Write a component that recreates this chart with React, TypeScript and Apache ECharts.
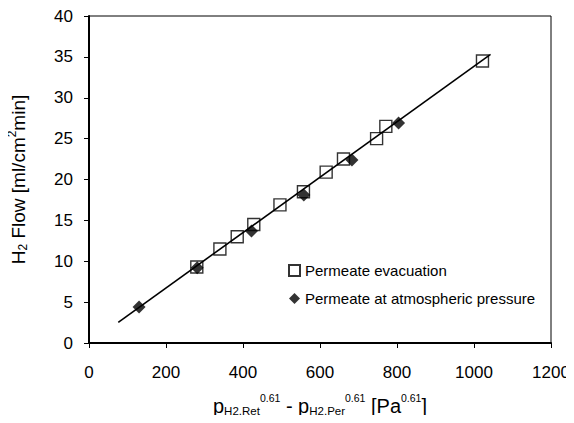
import React, { useEffect, useRef } from "react";
import * as echarts from "echarts";

const evacX = [280, 340, 385, 428, 496, 557, 616, 661, 747, 771, 1022];
const evacY = [9.3, 11.5, 13.0, 14.5, 16.9, 18.5, 20.9, 22.5, 25.0, 26.5, 34.5];
const atmX = [130, 281, 422, 558, 683, 804];
const atmY = [4.4, 9.2, 13.7, 18.1, 22.4, 26.9];
const fitX = [76, 1043];
const fitY = [2.53, 35.3];
const xTicks = { min: 0, max: 1200, interval: 200 };
const yTicks = { min: 0, max: 40, interval: 5 };
const seriesNames = ["Permeate evacuation", "Permeate at atmospheric pressure"];

const FONT = "'Liberation Sans', Arial, sans-serif";

export default function App() {
  const ref = useRef<HTMLDivElement>(null);
  useEffect(() => {
    if (!ref.current) return;
    const chart = echarts.init(ref.current, undefined, { renderer: "svg" });
    chart.setOption({
      animation: false,
      backgroundColor: "#fff",
      textStyle: { fontFamily: FONT, color: "#000" },
      grid: {
        left: 89,
        top: 16,
        right: 23,
        bottom: 80,
        outerBoundsMode: "none",
        containLabel: false,
        show: true,
        borderColor: "#000",
        borderWidth: 1,
        backgroundColor: "transparent",
      },
      legend: {
        orient: "vertical",
        left: 283,
        top: 258,
        itemWidth: 11,
        itemHeight: 11,
        itemGap: 13,
        data: seriesNames,
        textStyle: { fontSize: 15, fontFamily: FONT, color: "#000" },
      },
      xAxis: {
        type: "value",
        min: xTicks.min,
        max: xTicks.max,
        interval: xTicks.interval,
        splitLine: { show: false },
        axisLine: { show: true, onZero: false, lineStyle: { color: "#000", width: 2 } },
        axisTick: { show: true, inside: false, length: 5, lineStyle: { color: "#000" } },
        axisLabel: {
          fontSize: 17,
          color: "#000",
          margin: 21,
          fontFamily: FONT,
          formatter: (v: number) => String(v),
        },
        nameLocation: "middle",
        nameGap: 48,
        name: "{m|p}{s|H2,Ret}{u|0.61}{m| - p}{s|H2,Per}{u|0.61}{m| [Pa}{u|0.61}{m|]}",
        nameTextStyle: {
          color: "#000",
          fontFamily: FONT,
          verticalAlign: "top",
          rich: {
            m: { fontSize: 20, lineHeight: 30, verticalAlign: "middle", fontFamily: FONT, color: "#000" },
            s: { fontSize: 11.5, verticalAlign: "bottom", padding: [0, 0, 4, 0], fontFamily: FONT, color: "#000" },
            u: { fontSize: 10.5, verticalAlign: "top", padding: [1, 0, 0, 0], fontFamily: FONT, color: "#000" },
          },
        },
      },
      yAxis: {
        type: "value",
        min: yTicks.min,
        max: yTicks.max,
        interval: yTicks.interval,
        splitLine: { show: false },
        axisLine: { show: true, onZero: false, lineStyle: { color: "#000", width: 2 } },
        axisTick: { show: true, inside: false, length: 5, lineStyle: { color: "#000" } },
        axisLabel: {
          fontSize: 17,
          color: "#000",
          margin: 16,
          fontFamily: FONT,
          formatter: (v: number) => String(v),
        },
        name: "{m|H}{s|2}{m| Flow [ml/cm}{u|2}{m|min]}",
        nameLocation: "middle",
        nameGap: 58,
        nameRotate: 90,
        nameTextStyle: {
          color: "#000",
          fontFamily: FONT,
          rich: {
            m: { fontSize: 19, lineHeight: 26, fontFamily: FONT, color: "#000" },
            s: { fontSize: 12, verticalAlign: "bottom", padding: [0, 0, 2, 0], fontFamily: FONT, color: "#000" },
            u: { fontSize: 12, verticalAlign: "top", padding: [1, 0, 0, 0], fontFamily: FONT, color: "#000" },
          },
        },
      },
      series: [
        {
          name: "fit",
          type: "line",
          data: fitX.map((x, i) => [x, fitY[i]]),
          showSymbol: false,
          lineStyle: { color: "#000", width: 1.6 },
          z: 1,
          silent: true,
        },
        {
          name: seriesNames[0],
          type: "scatter",
          data: evacX.map((x, i) => [x, evacY[i]]),
          symbol: "rect",
          symbolSize: 12,
          itemStyle: { color: "rgba(255,255,255,0)", borderColor: "#000", borderWidth: 1.4 },
          z: 3,
        },
        {
          name: seriesNames[1],
          type: "scatter",
          data: atmX.map((x, i) => [x, atmY[i]]),
          symbol: "diamond",
          symbolSize: 13,
          itemStyle: { color: "#000" },
          z: 4,
        },
      ],
    });
    return () => chart.dispose();
  }, []);
  return <div ref={ref} style={{ width: 574, height: 423, margin: -8 }} />;
}
